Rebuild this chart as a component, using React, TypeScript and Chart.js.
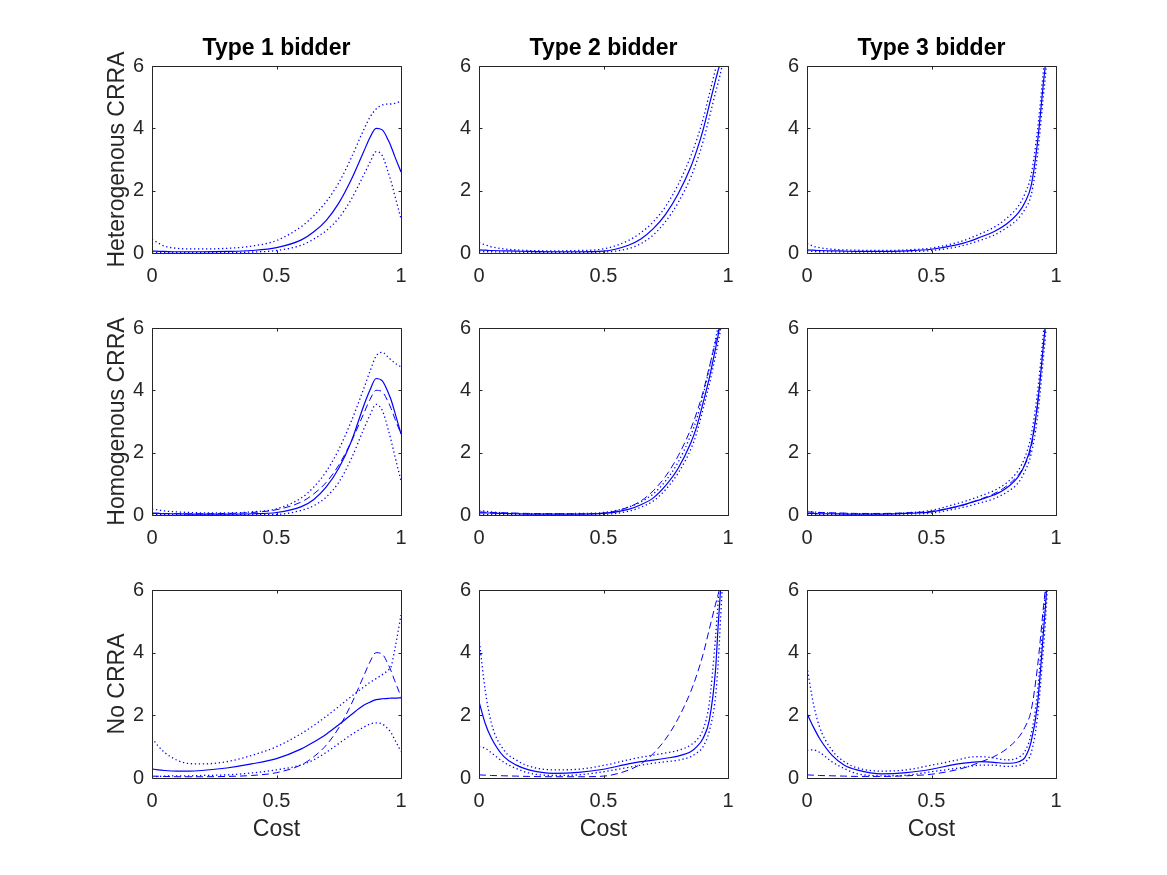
import React, { useEffect, useRef } from "react";
import { Chart, registerables } from "chart.js";

Chart.register(...registerables);

// ---------------- data ----------------
const COST = [0, 0.025, 0.05, 0.1, 0.15, 0.2, 0.3, 0.4, 0.5, 0.6, 0.65, 0.7, 0.75, 0.8, 0.85, 0.875, 0.9, 0.925, 0.95, 0.96, 0.975, 1];

const COL_TITLES = ["Type 1 bidder", "Type 2 bidder", "Type 3 bidder"];
const ROW_LABELS = ["Heterogenous CRRA", "Homogenous CRRA", "No CRRA"];
const X_LABEL = "Cost";
const X_MIN = 0, X_MAX = 1, X_STEP = 0.5;
const Y_MIN = 0, Y_MAX = 6, Y_STEP = 2;

// Heterogenous CRRA
const het1Est = [0.06, 0.055, 0.05, 0.04, 0.04, 0.04, 0.05, 0.08, 0.17, 0.42, 0.68, 1.05, 1.6, 2.35, 3.25, 3.7, 4.0, 3.95, 3.6, 3.42, 3.1, 2.6];
const het1Up = [0.44, 0.32, 0.22, 0.15, 0.13, 0.13, 0.15, 0.22, 0.4, 0.85, 1.2, 1.65, 2.25, 3.05, 3.95, 4.35, 4.62, 4.75, 4.78, 4.78, 4.8, 4.88];
const het1Lo = [0.0, 0.01, 0.01, 0.02, 0.02, 0.02, 0.02, 0.03, 0.08, 0.25, 0.45, 0.72, 1.12, 1.72, 2.5, 2.9, 3.25, 3.12, 2.55, 2.3, 1.85, 1.1];

const het2Est = [0.1, 0.09, 0.08, 0.07, 0.06, 0.05, 0.04, 0.04, 0.06, 0.25, 0.45, 0.78, 1.25, 1.9, 2.75, 3.3, 3.95, 4.75, 5.55, 5.85, 6.3, 7.4];
const het2Up = [0.33, 0.26, 0.2, 0.13, 0.1, 0.08, 0.07, 0.08, 0.13, 0.4, 0.65, 1.0, 1.5, 2.2, 3.1, 3.65, 4.3, 5.1, 5.9, 6.2, 6.8, 8.0];
const het2Lo = [0.05, 0.04, 0.04, 0.03, 0.03, 0.02, 0.02, 0.02, 0.03, 0.14, 0.3, 0.58, 1.02, 1.62, 2.42, 2.95, 3.58, 4.35, 5.15, 5.45, 5.95, 7.0];

const het3Est = [0.1, 0.09, 0.08, 0.07, 0.06, 0.05, 0.05, 0.07, 0.12, 0.26, 0.37, 0.52, 0.68, 0.92, 1.3, 1.62, 2.15, 3.5, 5.5, 6.3, 8.5, 12];
const het3Up = [0.3, 0.22, 0.17, 0.12, 0.1, 0.09, 0.08, 0.1, 0.16, 0.33, 0.46, 0.63, 0.82, 1.1, 1.52, 1.9, 2.5, 3.9, 5.9, 6.8, 9, 13];
const het3Lo = [0.05, 0.05, 0.04, 0.04, 0.03, 0.03, 0.03, 0.04, 0.08, 0.19, 0.29, 0.42, 0.57, 0.8, 1.12, 1.4, 1.85, 3.1, 5.1, 5.9, 8, 11];

// Homogenous CRRA
const hom1Est = [0.05, 0.05, 0.04, 0.04, 0.03, 0.03, 0.03, 0.04, 0.08, 0.27, 0.5, 0.9, 1.5, 2.35, 3.5, 4.0, 4.38, 4.3, 3.9, 3.7, 3.3, 2.6];
const hom1Up = [0.19, 0.16, 0.13, 0.1, 0.08, 0.07, 0.07, 0.1, 0.2, 0.55, 0.9, 1.4, 2.1, 3.0, 4.05, 4.6, 5.1, 5.22, 5.05, 4.98, 4.88, 4.75];
const hom1Lo = [0.01, 0.01, 0.01, 0.01, 0.01, 0.01, 0.01, 0.01, 0.02, 0.15, 0.3, 0.58, 1.05, 1.8, 2.75, 3.2, 3.55, 3.35, 2.7, 2.4, 1.9, 1.1];

const hom2Est = [0.07, 0.07, 0.06, 0.05, 0.04, 0.03, 0.03, 0.03, 0.05, 0.18, 0.33, 0.55, 0.95, 1.5, 2.3, 2.85, 3.6, 4.4, 5.35, 5.75, 6.5, 8.0];
const hom2Up = [0.15, 0.12, 0.1, 0.07, 0.05, 0.04, 0.04, 0.05, 0.08, 0.25, 0.42, 0.68, 1.1, 1.7, 2.55, 3.1, 3.85, 4.7, 5.65, 6.05, 6.9, 8.5];
const hom2Lo = [0.02, 0.02, 0.02, 0.02, 0.02, 0.01, 0.01, 0.01, 0.02, 0.12, 0.25, 0.45, 0.82, 1.35, 2.1, 2.65, 3.4, 4.2, 5.1, 5.5, 6.2, 7.6];

const hom3Est = [0.05, 0.05, 0.04, 0.04, 0.03, 0.03, 0.03, 0.05, 0.1, 0.27, 0.38, 0.5, 0.64, 0.86, 1.25, 1.62, 2.25, 3.5, 5.5, 6.4, 9, 13];
const hom3Up = [0.12, 0.1, 0.08, 0.06, 0.05, 0.04, 0.04, 0.07, 0.15, 0.36, 0.48, 0.62, 0.78, 1.02, 1.45, 1.85, 2.55, 3.9, 5.9, 6.8, 9.5, 14];
const hom3Lo = [0.02, 0.02, 0.02, 0.02, 0.02, 0.02, 0.02, 0.03, 0.06, 0.2, 0.29, 0.4, 0.52, 0.72, 1.05, 1.4, 1.95, 3.1, 5.1, 6.0, 8.5, 12];

// No CRRA
const none1Est = [0.29, 0.26, 0.24, 0.22, 0.22, 0.24, 0.32, 0.45, 0.62, 0.93, 1.15, 1.4, 1.7, 2.02, 2.32, 2.42, 2.5, 2.53, 2.54, 2.55, 2.55, 2.56];
const none1Up = [1.27, 1.02, 0.82, 0.57, 0.46, 0.45, 0.52, 0.72, 1.0, 1.42, 1.68, 1.97, 2.28, 2.6, 2.9, 3.05, 3.17, 3.3, 3.45, 3.55, 4.1, 5.2];
const none1Lo = [0.04, 0.05, 0.06, 0.07, 0.07, 0.08, 0.1, 0.16, 0.26, 0.42, 0.58, 0.82, 1.1, 1.38, 1.62, 1.72, 1.76, 1.72, 1.55, 1.45, 1.22, 0.85];

const none2Est = [2.44, 1.74, 1.27, 0.68, 0.41, 0.26, 0.15, 0.18, 0.28, 0.45, 0.52, 0.57, 0.63, 0.7, 0.84, 1.0, 1.27, 1.85, 3.45, 4.8, 6.6, 10];
const none2Up = [4.46, 2.8, 1.74, 0.89, 0.57, 0.38, 0.26, 0.28, 0.4, 0.58, 0.66, 0.73, 0.8, 0.88, 1.05, 1.22, 1.55, 2.4, 4.5, 5.6, 7.5, 12];
const none2Lo = [1.0, 0.95, 0.8, 0.5, 0.3, 0.16, 0.08, 0.1, 0.2, 0.34, 0.41, 0.47, 0.52, 0.57, 0.68, 0.8, 1.0, 1.5, 2.6, 3.6, 5.8, 9];

const none3Est = [2.06, 1.64, 1.27, 0.73, 0.41, 0.26, 0.13, 0.17, 0.28, 0.44, 0.49, 0.52, 0.5, 0.47, 0.52, 0.65, 1.15, 2.3, 4.7, 5.75, 8, 12];
const none3Up = [3.55, 2.4, 1.64, 0.89, 0.52, 0.33, 0.22, 0.26, 0.41, 0.57, 0.66, 0.68, 0.64, 0.58, 0.66, 0.85, 1.4, 2.7, 5.2, 6.3, 8.5, 13];
const none3Lo = [0.89, 0.9, 0.82, 0.52, 0.3, 0.14, 0.07, 0.09, 0.2, 0.31, 0.37, 0.41, 0.41, 0.37, 0.4, 0.5, 0.8, 1.9, 4.2, 5.3, 7.5, 11];

type PanelData = { est: number[]; up: number[]; lo: number[]; ref: number[] | null };

const PANELS: PanelData[][] = [
  [
    { est: het1Est, up: het1Up, lo: het1Lo, ref: null },
    { est: het2Est, up: het2Up, lo: het2Lo, ref: null },
    { est: het3Est, up: het3Up, lo: het3Lo, ref: null },
  ],
  [
    { est: hom1Est, up: hom1Up, lo: hom1Lo, ref: het1Est },
    { est: hom2Est, up: hom2Up, lo: hom2Lo, ref: het2Est },
    { est: hom3Est, up: hom3Up, lo: hom3Lo, ref: het3Est },
  ],
  [
    { est: none1Est, up: none1Up, lo: none1Lo, ref: het1Est },
    { est: none2Est, up: none2Up, lo: none2Lo, ref: het2Est },
    { est: none3Est, up: none3Up, lo: none3Lo, ref: het3Est },
  ],
];

// ---------------- layout / style ----------------
const COL_LEFT = [152, 479, 807];
const PLOT_W = 249;
const ROW_TOP = [66, 328, 590];
const PLOT_H = [187, 187, 188];
const FONT = "'Liberation Sans', Arial, Helvetica, sans-serif";
const AXIS_COLOR = "#262626";
const BLUE = "#0000ff";
const LABEL_SIZE = 23;
const LABEL_LH = LABEL_SIZE * 1.2;

const framePlugin = {
  id: "matlabFrame",
  afterDatasetsDraw(chart: any) {
    const { ctx, chartArea, scales } = chart;
    const { left, right, top, bottom } = chartArea;
    const xs = scales.x, ys = scales.y;
    ctx.save();
    ctx.strokeStyle = AXIS_COLOR;
    ctx.lineWidth = 1;
    ctx.beginPath();
    ctx.rect(left + 0.5, top + 0.5, right - left, bottom - top);
    ctx.stroke();
    const tl = 3;
    ctx.beginPath();
    xs.ticks.forEach((t: any) => {
      const px = Math.round(xs.getPixelForValue(t.value)) + 0.5;
      ctx.moveTo(px, bottom + 0.5);
      ctx.lineTo(px, bottom + 0.5 - tl);
      ctx.moveTo(px, top + 0.5);
      ctx.lineTo(px, top + 0.5 + tl);
    });
    ys.ticks.forEach((t: any) => {
      const py = Math.round(ys.getPixelForValue(t.value)) + 0.5;
      ctx.moveTo(left + 0.5, py);
      ctx.lineTo(left + 0.5 + tl, py);
      ctx.moveTo(right + 0.5, py);
      ctx.lineTo(right + 0.5 - tl, py);
    });
    ctx.stroke();
    ctx.restore();
  },
};

function zeroPad(s: any) {
  s.paddingLeft = 0;
  s.paddingRight = 0;
  s.paddingTop = 0;
  s.paddingBottom = 0;
}

const fmtTick = (v: any) => String(Math.round(Number(v) * 100) / 100);

function Panel({ row, col }: { row: number; col: number }) {
  const ref = useRef<HTMLCanvasElement | null>(null);
  const L = 70;
  const R = 14;
  const T = row === 0 ? 40 : 12;
  const B = row === 2 ? 72 : 40;
  const w = L + PLOT_W + R;
  const h = T + PLOT_H[row] + B;

  useEffect(() => {
    const p = PANELS[row][col];
    const pts = (ys: number[]) => COST.map((x, i) => ({ x, y: ys[i] }));
    const common = {
      pointRadius: 0,
      cubicInterpolationMode: "monotone" as const,
      borderColor: BLUE,
      fill: false,
    };
    const datasets: any[] = [
      { ...common, data: pts(p.up), borderWidth: 1.3, borderDash: [1.3, 2.7] },
      { ...common, data: pts(p.lo), borderWidth: 1.3, borderDash: [1.3, 2.7] },
    ];
    if (p.ref) datasets.push({ ...common, data: pts(p.ref), borderWidth: 1, borderDash: [7, 4] });
    datasets.push({ ...common, data: pts(p.est), borderWidth: 1.2 });

    const chart = new Chart(ref.current as HTMLCanvasElement, {
      type: "line",
      data: { datasets },
      options: {
        animation: false,
        responsive: false,
        maintainAspectRatio: false,
        events: [],
        layout: { padding: { left: 0, right: R, top: row === 0 ? 0 : T, bottom: 0 } },
        plugins: {
          legend: { display: false },
          tooltip: { enabled: false },
          title: {
            display: row === 0,
            text: COL_TITLES[col],
            fullSize: false,
            color: "#000",
            font: { family: FONT, size: LABEL_SIZE, weight: "bold", lineHeight: 1.2 },
            padding: { top: 9, bottom: 40 - LABEL_LH - 9 },
          },
        },
        scales: {
          x: {
            type: "linear",
            min: X_MIN,
            max: X_MAX,
            grid: { display: false, drawTicks: false },
            border: { display: false },
            ticks: {
              stepSize: X_STEP,
              color: AXIS_COLOR,
              font: { family: FONT, size: 20 },
              padding: 11,
              maxRotation: 0,
              autoSkip: false,
              callback: fmtTick,
            },
            title: {
              display: row === 2,
              text: X_LABEL,
              color: AXIS_COLOR,
              font: { family: FONT, size: LABEL_SIZE, lineHeight: 1.2 },
              padding: { top: 0, bottom: 7 },
            },
            afterFit: (s: any) => {
              s.height = B;
              zeroPad(s);
            },
          },
          y: {
            type: "linear",
            min: Y_MIN,
            max: Y_MAX,
            grid: { display: false, drawTicks: false },
            border: { display: false },
            ticks: {
              stepSize: Y_STEP,
              color: AXIS_COLOR,
              font: { family: FONT, size: 20 },
              padding: 8,
              callback: fmtTick,
            },
            title: {
              display: col === 0,
              text: ROW_LABELS[row],
              color: AXIS_COLOR,
              font: { family: FONT, size: LABEL_SIZE, lineHeight: 1.2 },
              padding: { top: 22, bottom: 0 },
            },
            afterFit: (s: any) => {
              s.width = L;
              zeroPad(s);
            },
          },
        },
      } as any,
      plugins: [framePlugin],
    });
    return () => chart.destroy();
  }, [row, col]);

  return (
    <canvas
      ref={ref}
      width={w}
      height={h}
      style={{ position: "absolute", left: COL_LEFT[col] - L, top: ROW_TOP[row] - T, width: w, height: h }}
    />
  );
}

export default function App() {
  const cells: React.ReactElement[] = [];
  for (let r = 0; r < 3; r++) for (let c = 0; c < 3; c++) cells.push(<Panel key={`${r}-${c}`} row={r} col={c} />);
  return (
    <div style={{ position: "absolute", left: 0, top: 0, width: 1167, height: 875, background: "#fff", overflow: "hidden" }}>
      {cells}
    </div>
  );
}
